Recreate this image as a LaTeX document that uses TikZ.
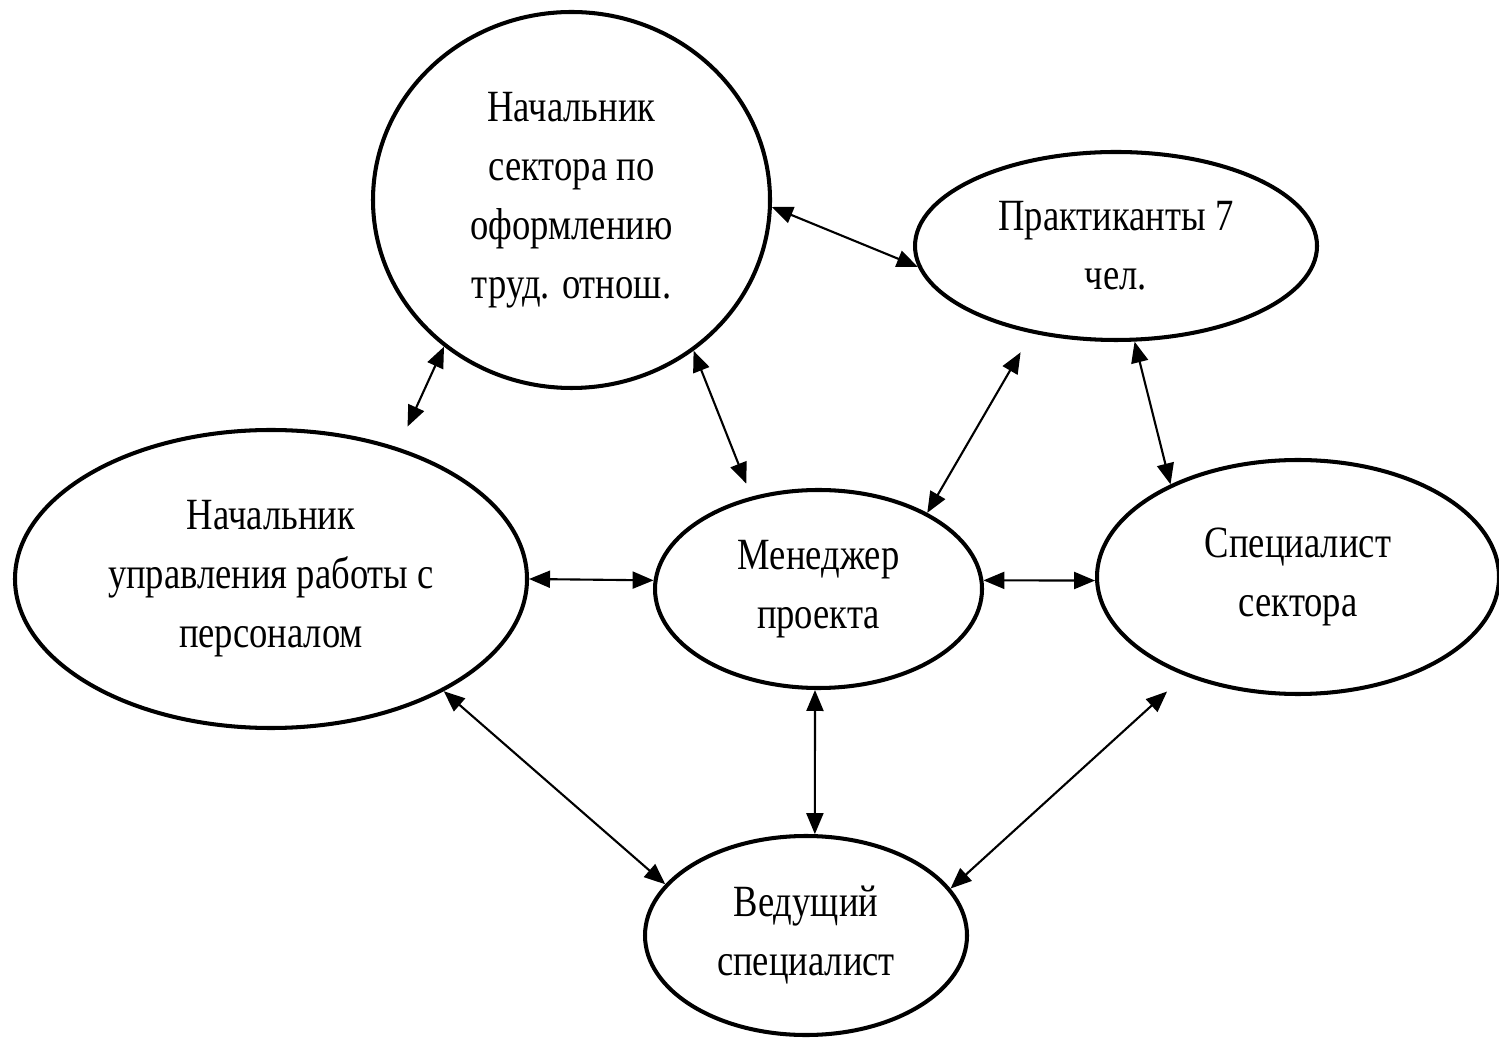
\documentclass[tikz,border=0pt]{standalone}
\usepackage{fontspec}
\setmainfont{Liberation Serif}[FakeStretch=0.82]
\usetikzlibrary{shapes.geometric, arrows.meta}

\tikzset{
  post/.style={draw, ellipse, line width=1.15pt, inner sep=0pt, align=center,
    font=\fontsize{12.7}{16.8}\selectfont},
  link/.style={>={Triangle[length=2.1mm, width=1.7mm]}, <->, line width=0.6pt}
}

\begin{document}
\begin{tikzpicture}
  \useasboundingbox (0, 0) rectangle (14.99, 10.45);

  \node[post, minimum width=3.97cm, minimum height=3.76cm] (head) at (5.715, 8.45)
    {Начальник\\сектора по\\оформлению\\труд. отнош.};
  \node[post, minimum width=4.02cm, minimum height=1.88cm] (interns) at (11.16, 7.99)
    {Практиканты 7\\чел.};
  \node[post, minimum width=5.12cm, minimum height=2.98cm] (chief) at (2.71, 4.66)
    {Начальник\\управления работы с\\персоналом};
  \node[post, minimum width=3.27cm, minimum height=1.98cm] (manager) at (8.185, 4.56)
    {Менеджер\\проекта};
  \node[post, minimum width=4.02cm, minimum height=2.34cm] (spec) at (12.98, 4.68)
    {Специалист\\сектора};
  \node[post, minimum width=3.22cm, minimum height=1.99cm] (lead) at (8.06, 1.095)
    {Ведущий\\специалист};

  % links between posts
  \draw[link] (head.-2) -- (interns.186);
  \draw[link, shorten >=0.23cm] (head.229) -- (chief.46);
  \draw[link, shorten >=0.14cm] (head.-51) -- (manager.126);
  \draw[link, shorten <=0.22cm] (interns.226) -- (manager.35);
  \draw[link] (interns.-79) -- (spec.144);
  \draw[link] (chief.0) -- (manager.177);
  \draw[link] (manager.3) -- (spec.181);
  \draw[link] (chief.-33) -- (lead.160);
  \draw[link] (manager.268) -- (lead.85);
  \draw[link, shorten <=0.235cm] (spec.221) -- (lead.18);
\end{tikzpicture}
\end{document}
